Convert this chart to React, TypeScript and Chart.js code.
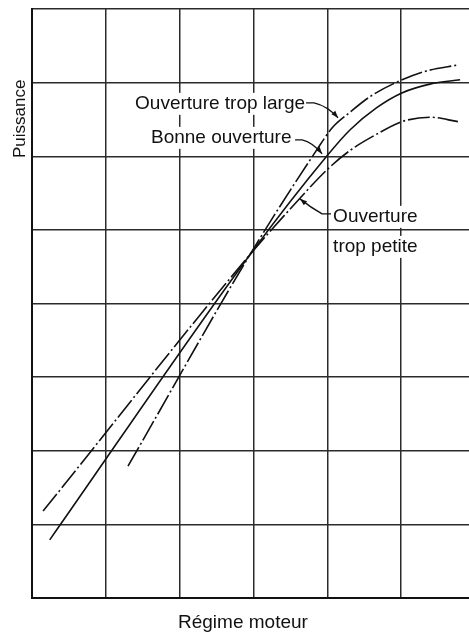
import React, { useEffect, useRef } from "react";
import { Chart, registerables } from "chart.js";

Chart.register(...registerables);

// Régime moteur (x, grid units) / Puissance (y, grid units)
const regimeTropLarge = [1.3, 2.95, 3.86, 4.07, 4.31, 4.58, 4.95, 5.35, 5.77];
const puissanceTropLarge = [1.79, 4.66, 6.09, 6.39, 6.6, 6.81, 7.01, 7.16, 7.24];

const regimeBonne = [0.24, 2.95, 4.0, 4.31, 4.67, 5.01, 5.39, 5.8];
const puissanceBonne = [0.79, 4.66, 6.01, 6.36, 6.66, 6.86, 6.98, 7.04];

const regimeTropPetite = [0.15, 2.95, 3.63, 4.0, 4.31, 4.67, 5.01, 5.39, 5.77];
const puissanceTropPetite = [1.18, 4.66, 5.43, 5.82, 6.08, 6.3, 6.47, 6.53, 6.47];

const xTitle = "Régime moteur";
const yTitle = "Puissance";

// annotation labels (data units): text lines, left x, baselines, leader path
const labelTexts = [["Ouverture trop large"], ["Bonne ouverture"], ["Ouverture", "trop petite"]];
const labelLeft = [1.396, 1.612, 4.079];
const labelBaselines = [[6.644], [6.182], [5.109, 4.701]];
const leaderX = [
  [3.713, 3.821, 4.0, 4.146],
  [3.564, 3.659, 3.8, 3.93],
  [4.051, 3.93, 3.78, 3.631],
];
const leaderY = [
  [6.726, 6.726, 6.685, 6.522],
  [6.223, 6.223, 6.19, 6.033],
  [5.217, 5.217, 5.3, 5.421],
];

const toPoints = (xs: number[], ys: number[]) => xs.map((x, i) => ({ x, y: ys[i] }));

const FONT = '"Liberation Sans", Arial, sans-serif';

const annotationPlugin = {
  id: "annotationsAndTitles",
  beforeDatasetsDraw(chart: any) {
    const { ctx, scales, chartArea } = chart;
    const xs = scales.x;
    const ys = scales.y;
    ctx.save();
    // keep the margin left of the plot clean
    ctx.fillStyle = "#ffffff";
    ctx.fillRect(0, 0, chartArea.left - 1.2, chart.height);
    ctx.font = `19px ${FONT}`;
    ctx.textBaseline = "alphabetic";
    ctx.textAlign = "left";
    labelTexts.forEach((lines, li) => {
      lines.forEach((t, k) => {
        const px = xs.getPixelForValue(labelLeft[li]);
        const py = ys.getPixelForValue(labelBaselines[li][k]);
        const w = ctx.measureText(t).width;
        ctx.fillStyle = "#ffffff";
        ctx.fillRect(px - 2, py - 16, w + 4, 22);
      });
    });
    labelTexts.forEach((lines, li) => {
      lines.forEach((t, k) => {
        const px = xs.getPixelForValue(labelLeft[li]);
        const py = ys.getPixelForValue(labelBaselines[li][k]);
        ctx.fillStyle = "#111111";
        ctx.fillText(t, px, py);
      });
    });
    ctx.strokeStyle = "#111111";
    ctx.fillStyle = "#111111";
    ctx.lineWidth = 1.3;
    leaderX.forEach((lx, li) => {
      const p = lx.map((x, i) => ({ x: xs.getPixelForValue(x), y: ys.getPixelForValue(leaderY[li][i]) }));
      ctx.beginPath();
      ctx.moveTo(p[0].x, p[0].y);
      ctx.lineTo(p[1].x, p[1].y);
      ctx.quadraticCurveTo(p[2].x, p[2].y, p[3].x, p[3].y);
      ctx.stroke();
      const ang = Math.atan2(p[3].y - p[2].y, p[3].x - p[2].x);
      const L = 7;
      const W = 2.6;
      ctx.beginPath();
      ctx.moveTo(p[3].x, p[3].y);
      ctx.lineTo(p[3].x - L * Math.cos(ang) + W * Math.sin(ang), p[3].y - L * Math.sin(ang) - W * Math.cos(ang));
      ctx.lineTo(p[3].x - L * Math.cos(ang) - W * Math.sin(ang), p[3].y - L * Math.sin(ang) + W * Math.cos(ang));
      ctx.closePath();
      ctx.fill();
    });
    ctx.restore();
  },
  afterDraw(chart: any) {
    const { ctx } = chart;
    ctx.save();
    ctx.fillStyle = "#111111";
    ctx.font = `19px ${FONT}`;
    ctx.textAlign = "left";
    ctx.textBaseline = "alphabetic";
    ctx.fillText(xTitle, 178, 628);
    ctx.translate(25, 158);
    ctx.rotate(-Math.PI / 2);
    ctx.font = `17px ${FONT}`;
    ctx.fillText(yTitle, 0, 0);
    ctx.restore();
  },
};

export default function App() {
  const ref = useRef<HTMLCanvasElement | null>(null);

  useEffect(() => {
    document.body.style.margin = "0";
    if (!ref.current) return;
    const lineStyle = { borderColor: "#111111", borderWidth: 1.6, pointRadius: 0, fill: false, cubicInterpolationMode: "monotone" as const, showLine: true };
    const chart = new Chart(ref.current, {
      type: "line",
      data: {
        datasets: [
          { label: "Ouverture trop large", data: toPoints(regimeTropLarge, puissanceTropLarge), borderDash: [22, 3, 2, 3], ...lineStyle },
          { label: "Bonne ouverture", data: toPoints(regimeBonne, puissanceBonne), ...lineStyle },
          { label: "Ouverture trop petite", data: toPoints(regimeTropPetite, puissanceTropPetite), borderDash: [22, 3, 2, 3], ...lineStyle },
        ],
      },
      options: {
        responsive: false,
        animation: false,
        devicePixelRatio: 1,
        layout: { padding: { left: 32, top: 9, right: 0, bottom: 34 } },
        plugins: { legend: { display: false }, tooltip: { enabled: false }, title: { display: false } },
        scales: {
          x: {
            type: "linear",
            min: 0,
            max: 5.92,
            ticks: { display: false, stepSize: 1, includeBounds: false },
            grid: { color: "#2b2b2b", lineWidth: 1.5, drawTicks: false, tickLength: 0 },
            border: { display: true, color: "#111111", width: 2 },
          },
          y: {
            type: "linear",
            min: 0,
            max: 8,
            ticks: { display: false, stepSize: 1 },
            grid: { color: "#2b2b2b", lineWidth: 1.5, drawTicks: false, tickLength: 0 },
            border: { display: true, color: "#111111", width: 2 },
          },
        },
      },
      plugins: [annotationPlugin],
    });
    return () => chart.destroy();
  }, []);

  return (
    <div style={{ width: 469, height: 632, background: "#ffffff" }}>
      <canvas ref={ref} width={469} height={632} style={{ display: "block" }} />
    </div>
  );
}
